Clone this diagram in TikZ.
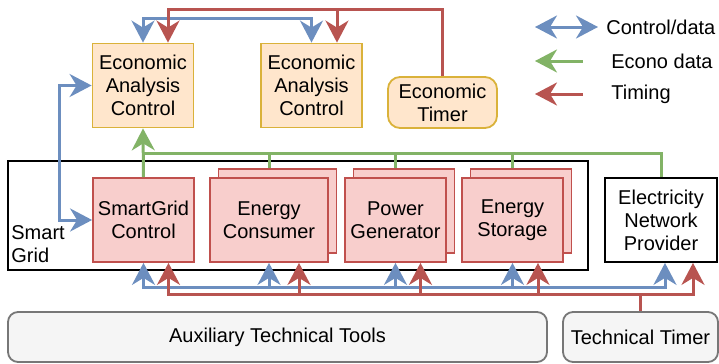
\documentclass[tikz,border=0pt]{standalone}
\usepackage{fontspec}
\setmainfont{Liberation Sans}
\usepackage{tikz}
\usetikzlibrary{arrows.meta,calc}
\definecolor{ctrlblue}{HTML}{6C8EBF}
\definecolor{econgreen}{HTML}{82B366}
\definecolor{timered}{HTML}{B85450}
\definecolor{econfill}{HTML}{FFE6CC}
\definecolor{econdraw}{HTML}{DAB23A}
\definecolor{gridfill}{HTML}{F8CECC}
\definecolor{griddraw}{HTML}{C0504D}
\definecolor{toolfill}{HTML}{F5F5F5}
\definecolor{tooldraw}{HTML}{777777}
\tikzstyle{box}=[draw,line width=0.9pt,minimum width=50.5pt,minimum height=42pt,align=center,inner sep=1pt]
\tikzstyle{econ box}=[box,fill=econfill,draw=econdraw]
\tikzstyle{grid box}=[box,fill=gridfill,draw=griddraw]
\tikzstyle{frame box}=[box,fill=white,draw=black]
\tikzstyle{tool box}=[box,rounded corners=5pt,fill=toolfill,draw=tooldraw,minimum height=25pt]
\tikzstyle{plain text}=[inner sep=0pt,align=left]
\tikzstyle{link}=[line width=1.5pt,>={Stealth[length=11pt,width=11.5pt,inset=3.5pt]}]
\tikzstyle{ctrl}=[link,draw=ctrlblue]
\tikzstyle{econ}=[link,draw=econgreen]
\tikzstyle{timing}=[link,draw=timered]

\begin{document}
\begin{tikzpicture}[x=0.5pt,y=-0.5pt,font=\fontsize{10}{11.5}\selectfont]
    \useasboundingbox (0,0) rectangle (719,364);
    % smart grid frame
    \node[frame box,minimum width=290pt,minimum height=54.5pt] (grid) at (298,215.5) {};
    \node[plain text,anchor=south west] (gridlabel) at (11,263) {Smart\\Grid};
    % economic side
    \node[econ box] (eac1) at (143,85.5) {Economic\\Analysis\\Control};
    \node[econ box] (eac2) at (311.5,85.5) {Economic\\Analysis\\Control};
    \node[econ box,rounded corners=6pt,minimum width=54.5pt,minimum height=25.5pt] (etimer) at (442.5,102.5) {Economic\\Timer};
    % grid members, back sheet first
    \node[grid box] (sgc) at (143.5,220) {SmartGrid\\Control};
    \foreach \name/\cx/\boxw/\txt in {consumer/269/59pt/{Energy\\Consumer},
            generator/395.5/50.5pt/{Power\\Generator},
            storage/512.5/50.5pt/{Energy\\Storage}}
    {
        \node[grid box,minimum width=\boxw] (\name b) at (\cx+8.5,211) {};
        \node[grid box,minimum width=\boxw] (\name) at (\cx,220) {\txt};
    }
    \node[frame box,minimum width=56pt] (enp) at (661,220) {Electricity\\Network\\Provider};
    % tools
    \node[tool box,minimum width=269.5pt] (aux) at (277.5,337) {Auxiliary Technical Tools};
    \node[tool box,minimum width=77.5pt] (ttimer) at (640.5,337) {Technical Timer};
    % legend
    \node[plain text,anchor=west] (lctrl) at (606,27) {Control/data};
    \node[plain text,anchor=west] (lecon) at (611,61) {Econo data};
    \node[plain text,anchor=west] (ltime) at (611,94) {Timing};
    \draw[ctrl,<->] ($(lctrl.west)+(-71,0)$) -- ($(lctrl.west)+(-8,0)$);
    \draw[econ,<-] ($(lecon.west)+(-76,0)$) -- ($(lecon.west)+(-28,0)$);
    \draw[timing,<-] ($(ltime.west)+(-76,0)$) -- ($(ltime.west)+(-28,0)$);

    % econo data
    \coordinate (gbus) at (143.5,153);
    \draw[econ] (enp.north) |- (gbus);
    \foreach \name in {consumer,generator,storage}
        \draw[econ] (\name b.north -| \name.north) -- (\name.north |- gbus);
    \draw[econ,->] (sgc.north) -- (eac1.south);

    % control/data
    \draw[ctrl,<->] (eac1.north) -- ++(0,-24) -| (eac2.north);
    \draw[ctrl,<->] (eac1.west) -- ++(-32,0) |- (sgc.west);
    \draw[ctrl,<->] (sgc.south) -- ++(0,25) -| ($(enp.south)+(4,0)$);
    \foreach \name in {consumer,generator,storage}
        \draw[ctrl,->] ($(\name.south)+(0,25)$) -- (\name.south);

    % timing
    \draw[timing,->] (etimer.north) -- ++(0,-67) -| ($(eac1.north)+(25,0)$);
    \draw[timing,->] ($(eac2.north)+(25.5,-33)$) -- ($(eac2.north)+(25.5,0)$);
    \draw[timing,->] (ttimer.north) -- ++(0,-17) -| ($(enp.south)+(32,0)$);
    \draw[timing,->] (ttimer.north) ++(0,-17) -| ($(sgc.south)+(25,0)$);
    \foreach \name/\dx in {consumer/30,generator/25,storage/25.5}
        \draw[timing,->] ($(\name.south)+(\dx,33)$) -- ($(\name.south)+(\dx,0)$);
\end{tikzpicture}
\end{document}
